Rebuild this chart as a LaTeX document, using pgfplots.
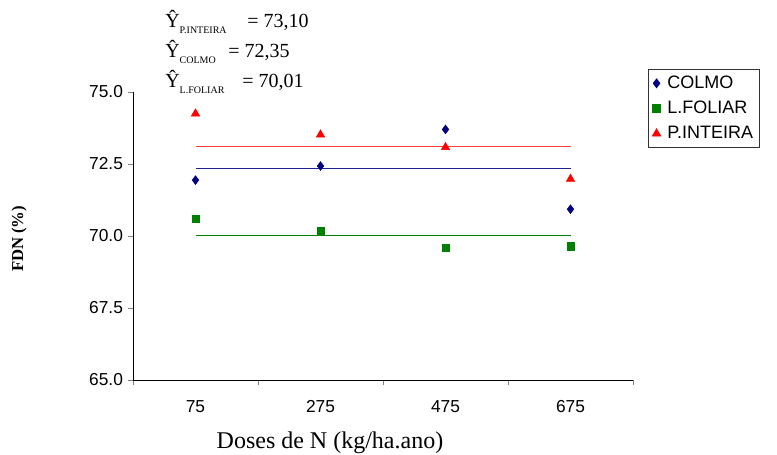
\documentclass[border=0pt]{standalone}
\usepackage{fontspec}
\setmainfont{Liberation Serif}
\setsansfont{Liberation Sans}
\usepackage{pgfplots}
\pgfplotsset{compat=1.18}
\definecolor{cnavy}{HTML}{000080}
\definecolor{cgreen}{HTML}{008000}
\definecolor{cred}{HTML}{FF0000}
\definecolor{lred}{HTML}{FF4040}
\definecolor{lblue}{HTML}{202090}

\begin{document}
\begin{tikzpicture}
\path[use as bounding box] (0,0) rectangle (582.75pt,-340.5pt);
\begin{axis}[
    at={(99.75pt,-285pt)}, anchor=south west,
    scale only axis, width=375pt, height=216pt,
    xmin=0.5, xmax=4.5, ymin=65, ymax=75,
    axis lines*=left,
    tick align=outside,
    xtick={1,2,3,4},
    xticklabels={75,275,475,675},
    every major x tick/.style={draw=none},
    minor xtick={0.5,1.5,2.5,3.5,4.5},
    minor tick length=4pt,
    major tick length=4pt,
    ytick={65,67.5,70,72.5,75},
    yticklabel style={/pgf/number format/.cd,fixed,fixed zerofill,precision=1},
    /pgf/number format/assume math mode=true,
    tick label style={font=\sffamily\fontsize{13}{15}\selectfont},
    xticklabel style={yshift=-8pt},
    xlabel={Doses de N (kg/ha.ano)},
    xlabel style={font=\fontsize{18}{20}\selectfont, at={(axis description cs:0.394,-0.219)}, anchor=center},
    ylabel={FDN (\%)},
    ylabel style={font=\bfseries\fontsize{12.5}{14}\selectfont, at={(axis description cs:-0.228,0.49)}, anchor=center},
    legend style={draw=black!80, line width=0.6pt, font=\sffamily\fontsize{13.5}{15}\selectfont,
        at={(axis description cs:1.03,1.08)}, anchor=north west,
        inner xsep=3pt, inner ysep=3pt, row sep=4pt,
        /tikz/every odd column/.append style={column sep=3pt}},
    legend cell align=left,
    legend image code/.code={\draw[#1] plot coordinates {(0.16cm,0cm)};},
]
\addplot[only marks, mark=diamond*, mark size=3.3pt, color=cnavy] coordinates {
    (1,71.94) (2,72.43) (3,73.70) (4,70.93)
};
\addlegendentry{COLMO}
\addplot[only marks, mark=square*, mark size=2.8pt, color=cgreen] coordinates {
    (1,70.59) (2,70.18) (3,69.60) (4,69.65)
};
\addlegendentry{L.FOLIAR}
\addplot[only marks, mark=triangle*, mark size=3.6pt, color=cred] coordinates {
    (1,74.25) (2,73.52) (3,73.08) (4,71.98)
};
\addlegendentry{P.INTEIRA}
\addplot[forget plot, lred, line width=0.8pt] coordinates {(1,73.10) (4,73.10)};
\addplot[forget plot, lblue, line width=0.8pt] coordinates {(1,72.35) (4,72.35)};
\addplot[forget plot, cgreen, line width=0.8pt] coordinates {(1,70.01) (4,70.01)};
\end{axis}
\begin{scope}[x=0.75pt,y=-0.75pt]
\node[anchor=base west, inner sep=0pt] at (165,27) {\fontsize{15}{16}\selectfont Ŷ\raisebox{-5pt}{\fontsize{7.5}{8}\selectfont P.INTEIRA}};
\node[anchor=base west, inner sep=0pt] at (247,27) {\fontsize{15}{16}\selectfont = 73,10};
\node[anchor=base west, inner sep=0pt] at (165,57) {\fontsize{15}{16}\selectfont Ŷ\raisebox{-5pt}{\fontsize{7.5}{8}\selectfont COLMO}};
\node[anchor=base west, inner sep=0pt] at (228,57) {\fontsize{15}{16}\selectfont = 72,35};
\node[anchor=base west, inner sep=0pt] at (165,87) {\fontsize{15}{16}\selectfont Ŷ\raisebox{-5pt}{\fontsize{7.5}{8}\selectfont L.FOLIAR}};
\node[anchor=base west, inner sep=0pt] at (242,87) {\fontsize{15}{16}\selectfont = 70,01};
\end{scope}
\end{tikzpicture}
\end{document}
